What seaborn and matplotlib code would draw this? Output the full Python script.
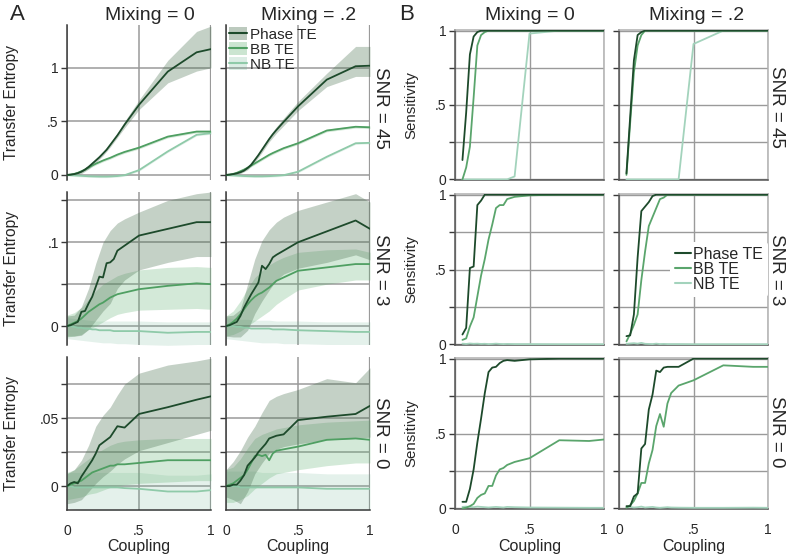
import numpy as np
import pandas as pd
import matplotlib
matplotlib.use("Agg")
import matplotlib.pyplot as plt
import seaborn as sns
from matplotlib.patches import Patch
from matplotlib.lines import Line2D
from matplotlib.ticker import FixedLocator, FixedFormatter

# ---------------- data ----------------
coupling = [0, .025, .05, .075, .1, .125, .15, .175, .2, .225, .25, .275, .3, .325, .35, .4, .5, .7, .9, 1.0]
band_coupling = [0, .05, .1, .15, .2, .25, .3, .35, .4, .5, .7, .9, 1.0]
sens_coupling = [.05, .075, .1, .125, .15, .175, .2, .225, .25, .275, .3, .325, .35, .4, .5, .7, .9, 1.0]

series_names = ["Phase TE", "BB TE", "NB TE"]
mixing_titles = ["Mixing = 0", "Mixing = .2"]
snr_labels = ["SNR = 45", "SNR = 3", "SNR = 0"]

# Transfer entropy, SNR = 45
te_phase_s45_m0 = [0, .003, .008, .017, .03, .05, .075, .105, .135, .165, .20, .235, .28, .325, .37, .47, .655, .965, 1.145, 1.175]
te_phase_s45_m0_lo = [-.005, .0, .012, .055, .115, .18, .26, .35, .44, .61, .86, .97, 1.0]
te_phase_s45_m0_hi = [.005, .016, .045, .095, .155, .22, .30, .39, .50, .70, 1.07, 1.34, 1.39]
te_bb_s45_m0 = [0, .004, .01, .02, .035, .05, .07, .088, .105, .12, .135, .148, .16, .175, .19, .215, .255, .358, .405, .405]
te_bb_s45_m0_lo = [-.006, .0, .024, .058, .093, .123, .148, .178, .203, .243, .346, .393, .393]
te_bb_s45_m0_hi = [.006, .02, .046, .082, .117, .147, .172, .202, .227, .267, .37, .417, .417]
te_nb_s45_m0 = [0, -.002, -.004, -.006, -.008, -.01, -.012, -.013, -.014, -.015, -.015, -.015, -.014, -.012, -.01, -.002, .045, .22, .375, .39]
te_nb_s45_m0_lo = [-.01, -.014, -.018, -.022, -.024, -.025, -.024, -.02, -.012, .035, .21, .365, .38]
te_nb_s45_m0_hi = [.01, .006, .002, -.002, -.004, -.005, -.004, .0, .008, .055, .23, .385, .40]

te_phase_s45_m2 = [0, .003, .008, .015, .025, .04, .065, .095, .14, .185, .235, .285, .335, .38, .42, .495, .64, .89, 1.015, 1.02]
te_phase_s45_m2_lo = [-.005, .0, .012, .048, .12, .21, .31, .39, .46, .60, .825, .92, .92]
te_phase_s45_m2_hi = [.005, .016, .038, .082, .16, .26, .36, .45, .53, .685, .95, 1.2, 1.2]
te_bb_s45_m2 = [0, .004, .01, .02, .035, .05, .068, .088, .108, .128, .148, .168, .188, .205, .22, .25, .296, .415, .45, .445]
te_bb_s45_m2_lo = [-.006, .0, .024, .056, .096, .136, .176, .208, .238, .284, .403, .438, .433]
te_bb_s45_m2_hi = [.006, .02, .046, .08, .12, .16, .2, .232, .262, .308, .427, .462, .457]
te_nb_s45_m2 = [0, -.002, -.004, -.006, -.008, -.01, -.011, -.012, -.013, -.013, -.013, -.012, -.011, -.009, -.007, -.002, .03, .17, .296, .30]
te_nb_s45_m2_lo = [-.01, -.014, -.018, -.021, -.023, -.023, -.021, -.017, -.012, .02, .16, .286, .29]
te_nb_s45_m2_hi = [.01, .006, .002, -.001, -.003, -.003, -.001, .003, .008, .04, .18, .306, .31]

# Transfer entropy, SNR = 3
te_phase_s3_m0 = [0, .001, .003, .005, .017, .018, .027, .035, .047, .059, .058, .075, .076, .08, .09, .096, .108, .116, .124, .124]
te_phase_s3_m0_lo = [-.012, -.012, -.011, -.004, .007, .018, .027, .045, .055, .067, .076, .083, .083]
te_phase_s3_m0_hi = [.012, .013, .023, .045, .075, .10, .114, .123, .128, .136, .15, .158, .16]
te_bb_s3_m0 = [0, .002, .004, .006, .009, .013, .017, .02, .023, .026, .028, .031, .034, .036, .038, .04, .044, .048, .051, .05]
te_bb_s3_m0_lo = [-.013, -.012, -.01, -.004, .0, .005, .01, .014, .016, .019, .02, .021, .02]
te_bb_s3_m0_hi = [.013, .016, .022, .032, .042, .05, .055, .06, .063, .067, .07, .071, .07]
te_nb_s3_m0 = [0, .0, -.001, -.002, -.002, -.003, -.003, -.004, -.004, -.005, -.005, -.005, -.005, -.006, -.006, -.006, -.006, -.008, -.007, -.007]
te_nb_s3_m0_lo = [-.015, -.016, -.017, -.018, -.019, -.02, -.02, -.021, -.021, -.022, -.023, -.022, -.022]
te_nb_s3_m0_hi = [.01, .009, .008, .007, .006, .006, .006, .006, .006, .006, .005, .005, .005]

te_phase_s3_m2 = [0, .001, .003, .005, .012, .022, .03, .038, .045, .052, .072, .068, .074, .082, .085, .09, .10, .113, .126, .116]
te_phase_s3_m2_lo = [-.012, -.013, -.013, -.005, .015, .03, .043, .055, .062, .069, .076, .085, .079]
te_phase_s3_m2_hi = [.012, .013, .02, .05, .08, .102, .115, .124, .13, .138, .148, .158, .148]
te_bb_s3_m2 = [0, .002, .005, .009, .014, .02, .026, .031, .035, .038, .04, .043, .046, .05, .054, .058, .066, .07, .074, .074]
te_bb_s3_m2_lo = [-.012, -.01, -.006, .0, .006, .012, .018, .026, .032, .043, .05, .055, .055]
te_bb_s3_m2_hi = [.012, .018, .03, .045, .058, .066, .073, .078, .082, .088, .091, .092, .088]
te_nb_s3_m2 = [0, 0, 0, -.001, -.001, -.002, -.002, -.003, -.003, -.003, -.003, -.003, -.003, -.004, -.004, -.004, -.005, -.006, -.007, -.007]
te_nb_s3_m2_lo = [-.015, -.016, -.017, -.018, -.019, -.02, -.02, -.02, -.021, -.021, -.022, -.022, -.022]
te_nb_s3_m2_hi = [.01, .009, .008, .008, .007, .007, .007, .006, .006, .006, .005, .005, .005]

# Transfer entropy, SNR = 0
te_phase_s0_m0 = [0, .002, .003, .002, .007, .011, .015, .019, .024, .03, .032, .034, .036, .04, .044, .043, .053, .058, .0635, .066]
te_phase_s0_m0_lo = [-.013, -.012, -.01, -.004, .002, .007, .011, .016, .02, .026, .032, .038, .041]
te_phase_s0_m0_hi = [.009, .012, .019, .03, .044, .052, .058, .067, .075, .083, .089, .092, .094]
te_bb_s0_m0 = [0, .001, .002, .003, .004, .006, .008, .01, .011, .012, .013, .014, .015, .015, .016, .016, .017, .019, .019, .019]
te_bb_s0_m0_lo = [-.01, -.009, -.008, -.006, -.005, -.003, -.001, .0, .001, .002, .003, .004, .004]
te_bb_s0_m0_hi = [.01, .012, .016, .02, .024, .027, .03, .032, .033, .034, .035, .035, .035]
te_nb_s0_m0 = [0, 0, -.001, -.001, -.001, -.001, -.001, -.001, -.001, -.001, -.001, -.001, -.001, -.001, -.001, -.0015, -.002, -.004, -.004, -.003]
te_nb_s0_m0_lo = [-.016, -.017, -.018, -.019, -.019, -.02, -.02, -.02, -.02, -.02, -.021, -.021, -.021]
te_nb_s0_m0_hi = [.01, .01, .01, .01, .01, .01, .01, .01, .01, .01, .008, .008, .009]

te_phase_s0_m2 = [0, 0, .001, .001, .004, .008, .015, .018, .021, .025, .028, .031, .035, .036, .037, .038, .0485, .051, .053, .059]
te_phase_s0_m2_lo = [-.008, -.01, -.013, -.004, .009, .017, .024, .027, .029, .031, .034, .035, .036]
te_phase_s0_m2_hi = [.012, .018, .026, .036, .044, .054, .063, .066, .068, .071, .079, .076, .087]
te_bb_s0_m2 = [0, .001, .002, .004, .006, .008, .012, .017, .022, .023, .022, .023, .019, .024, .026, .027, .029, .034, .035, .034]
te_bb_s0_m2_lo = [-.012, -.012, -.01, -.007, -.002, .002, .006, .009, .01, .012, .015, .017, .017]
te_bb_s0_m2_hi = [.012, .014, .02, .028, .035, .038, .04, .042, .043, .045, .047, .048, .0485]
te_nb_s0_m2 = [0, 0, 0, 0, -.001, -.001, -.001, -.001, -.001, -.001, -.001, -.001, -.001, -.001, -.001, -.001, -.001, -.002, -.002, -.002]
te_nb_s0_m2_lo = [-.016, -.017, -.018, -.019, -.019, -.02, -.02, -.02, -.02, -.02, -.021, -.021, -.021]
te_nb_s0_m2_hi = [.011, .011, .011, .011, .011, .01, .01, .01, .01, .01, .009, .009, .009]

# Sensitivity
sens_phase_s45_m0 = [.13, .45, .84, .96, .99, 1, 1, 1, 1, 1, 1, 1, 1, 1, 1, 1, 1, 1]
sens_bb_s45_m0 = [0, .08, .22, .55, .90, .97, .99, 1, 1, 1, 1, 1, 1, 1, 1, 1, 1, 1]
sens_nb_s45_m0 = [0, 0, 0, 0, 0, 0, 0, 0, 0, 0, 0, 0, 0, .02, .98, 1, 1, 1]
sens_phase_s45_m2 = [.04, .42, .80, .97, .99, 1, 1, 1, 1, 1, 1, 1, 1, 1, 1, 1, 1, 1]
sens_bb_s45_m2 = [.03, .38, .72, .90, .97, 1, 1, 1, 1, 1, 1, 1, 1, 1, 1, 1, 1, 1]
sens_nb_s45_m2 = [0, 0, 0, 0, 0, 0, 0, 0, 0, 0, 0, 0, 0, 0, .91, 1, 1, 1]

sens_phase_s3_m0 = [.066, .11, .51, .52, .93, .96, 1, 1, 1, 1, 1, 1, 1, 1, 1, 1, 1, 1]
sens_bb_s3_m0 = [.03, .04, .12, .18, .32, .46, .57, .70, .80, .91, .93, .93, .97, .985, .995, 1, 1, 1]
sens_nb_s3_m0 = [.005, .003, .006, .004, .005, .003, .004, .002, .003, .005, .003, .002, .003, .002, .002, .001, .001, .001]
sens_phase_s3_m2 = [.055, .06, .20, .58, .89, .92, .95, .99, 1, 1, 1, 1, 1, 1, 1, 1, 1, 1]
sens_bb_s3_m2 = [.02, .07, .13, .20, .43, .62, .79, .85, .91, .97, .98, 1, 1, 1, 1, 1, 1, 1]
sens_nb_s3_m2 = [.004, .006, .008, .005, .01, .004, .003, .002, .005, .002, .003, .002, .002, .002, .001, .001, .001, .001]

sens_phase_s0_m0 = [.044, .044, .13, .26, .44, .60, .77, .91, .94, .945, .97, .985, .99, .985, .995, 1, 1, 1]
sens_bb_s0_m0 = [0, .005, .015, .03, .07, .09, .10, .15, .15, .22, .26, .27, .29, .31, .335, .455, .45, .46]
sens_nb_s0_m0 = [.01, .012, .01, .008, .012, .01, .008, .006, .008, .01, .008, .006, .01, .008, .006, .005, .004, .004]
sens_phase_s0_m2 = [.015, .015, .08, .10, .40, .43, .66, .76, .92, .91, .94, .945, .945, .945, 1, 1, 1, 1]
sens_bb_s0_m2 = [.005, .02, .05, .10, .17, .17, .30, .39, .55, .63, .545, .70, .77, .82, .855, .955, .945, .945]
sens_nb_s0_m2 = [.008, .01, .006, .008, .012, .006, .008, .01, .006, .004, .006, .008, .006, .005, .004, .004, .005, .004]

# ---------------- tables built from the arrays ----------------
te_panels = [
    [[(te_phase_s45_m0, te_phase_s45_m0_lo, te_phase_s45_m0_hi), (te_bb_s45_m0, te_bb_s45_m0_lo, te_bb_s45_m0_hi), (te_nb_s45_m0, te_nb_s45_m0_lo, te_nb_s45_m0_hi)],
     [(te_phase_s45_m2, te_phase_s45_m2_lo, te_phase_s45_m2_hi), (te_bb_s45_m2, te_bb_s45_m2_lo, te_bb_s45_m2_hi), (te_nb_s45_m2, te_nb_s45_m2_lo, te_nb_s45_m2_hi)]],
    [[(te_phase_s3_m0, te_phase_s3_m0_lo, te_phase_s3_m0_hi), (te_bb_s3_m0, te_bb_s3_m0_lo, te_bb_s3_m0_hi), (te_nb_s3_m0, te_nb_s3_m0_lo, te_nb_s3_m0_hi)],
     [(te_phase_s3_m2, te_phase_s3_m2_lo, te_phase_s3_m2_hi), (te_bb_s3_m2, te_bb_s3_m2_lo, te_bb_s3_m2_hi), (te_nb_s3_m2, te_nb_s3_m2_lo, te_nb_s3_m2_hi)]],
    [[(te_phase_s0_m0, te_phase_s0_m0_lo, te_phase_s0_m0_hi), (te_bb_s0_m0, te_bb_s0_m0_lo, te_bb_s0_m0_hi), (te_nb_s0_m0, te_nb_s0_m0_lo, te_nb_s0_m0_hi)],
     [(te_phase_s0_m2, te_phase_s0_m2_lo, te_phase_s0_m2_hi), (te_bb_s0_m2, te_bb_s0_m2_lo, te_bb_s0_m2_hi), (te_nb_s0_m2, te_nb_s0_m2_lo, te_nb_s0_m2_hi)]],
]
sens_panels = [
    [[sens_phase_s45_m0, sens_bb_s45_m0, sens_nb_s45_m0], [sens_phase_s45_m2, sens_bb_s45_m2, sens_nb_s45_m2]],
    [[sens_phase_s3_m0, sens_bb_s3_m0, sens_nb_s3_m0], [sens_phase_s3_m2, sens_bb_s3_m2, sens_nb_s3_m2]],
    [[sens_phase_s0_m0, sens_bb_s0_m0, sens_nb_s0_m0], [sens_phase_s0_m2, sens_bb_s0_m2, sens_nb_s0_m2]],
]

# ---------------- style ----------------
sns.set_style("white")
plt.rcParams['font.family'] = ['Liberation Sans', 'DejaVu Sans']

line_colors = ["#1d4a2b", "#4f9f62", "#8fcaa9"]
sens_colors = ["#1d4a2b", "#5aa56c", "#a3d3bc"]
band_colors = ["#4a7050", "#5fb070", "#62b08a"]
band_alphas = [0.32, 0.27, 0.17]
grid_c = "#9a9a9a"
spine_dark = "#3a3a3a"

W, H = 787, 558
fig = plt.figure(figsize=(W / 100, H / 100), dpi=100)


def rect(x0, x1, top, bottom):
    return [x0 / W, 1 - bottom / H, (x1 - x0) / W, (bottom - top) / H]


A_cols = [(67, 211), (226, 370)]
A_rows = [(25, 180), (192, 345), (357, 510)]
B_cols = [(455, 604), (619, 768)]
B_rows = [(30, 180), (194, 345), (358, 509)]

A_ylims = [(-0.047, 1.40), (-0.0226, 0.16), (-0.0176, 0.0949)]
A_grid = [[0, .5, 1.0], [0, .05, .1, .15], [0, .025, .05, .075]]
A_labels = [["0", ".5", "1"], ["0", "", ".1", ""], ["0", "", ".05", ""]]

tick_fs = 10
xlabel_fs = 11.5


def style_xaxis(ax, bottom_row, n_rows_px):
    if bottom_row:
        ax.xaxis.set_major_formatter(FixedFormatter(["0", ".5", "1"]))
        ax.tick_params(axis="x", length=0, labelsize=tick_fs, pad=10)
        ax.set_xlabel("Coupling", fontsize=xlabel_fs, va="center")
        ax.xaxis.set_label_coords(0.5, -37.0 / n_rows_px)
    else:
        ax.tick_params(axis="x", length=0, labelbottom=False)
        ax.set_xlabel("")


for r in range(3):
    for c in range(2):
        ax = fig.add_axes(rect(A_cols[c][0], A_cols[c][1], A_rows[r][0], A_rows[r][1]))
        for s in (2, 1, 0):
            mean, lo, hi = te_panels[r][c][s]
            ax.fill_between(band_coupling, lo, hi, color=band_colors[s], alpha=band_alphas[s], lw=0, zorder=1)
        for s in (2, 1, 0):
            mean = te_panels[r][c][s][0]
            sns.lineplot(x=coupling, y=mean, ax=ax, color=line_colors[s], lw=1.3, errorbar=None, zorder=3)
        ax.set_xlim(0, 1)
        ax.set_ylim(*A_ylims[r])
        ax.yaxis.set_major_locator(FixedLocator(A_grid[r]))
        ax.yaxis.set_major_formatter(FixedFormatter(A_labels[r] if c == 0 else [""] * len(A_grid[r])))
        ax.xaxis.set_major_locator(FixedLocator([0, .5, 1]))
        ax.grid(True, color=grid_c, lw=1.1)
        ax.set_axisbelow(True)
        for side in ("top", "bottom", "right"):
            ax.spines[side].set_visible(False)
        ax.spines["left"].set_color(spine_dark)
        ax.spines["left"].set_linewidth(1.1)
        ax.axvline(1.0, color=grid_c, lw=1.6, zorder=0.6)
        ax.tick_params(axis="y", direction="out", length=4, width=1, color=spine_dark,
                       labelsize=tick_fs, pad=2, left=True)
        if r == 2:
            ax.spines["bottom"].set_visible(True)
            ax.spines["bottom"].set_color(spine_dark)
            ax.spines["bottom"].set_linewidth(1.1)
        style_xaxis(ax, r == 2, A_rows[r][1] - A_rows[r][0])
        if c == 0:
            ax.set_ylabel("Transfer Entropy", fontsize=11.2)
            ax.yaxis.set_label_coords(-0.335, 0.5)
        else:
            ax.set_ylabel("")
        if r == 0 and c == 1:
            handles = [(Patch(facecolor=band_colors[s], alpha=band_alphas[s] + 0.05, lw=0),
                        Line2D([], [], color=line_colors[s], lw=1.5)) for s in range(3)]
            ax.legend(handles, series_names, loc="upper left", bbox_to_anchor=(0.0, 1.01),
                      frameon=False, fontsize=11, handlelength=1.15, handleheight=1.0,
                      handletextpad=0.2, labelspacing=0.0, borderpad=0.2, borderaxespad=0)

for r in range(3):
    for c in range(2):
        ax = fig.add_axes(rect(B_cols[c][0], B_cols[c][1], B_rows[r][0], B_rows[r][1]))
        for s in (2, 1, 0):
            sns.lineplot(x=sens_coupling, y=sens_panels[r][c][s], ax=ax, color=sens_colors[s],
                         lw=1.3, errorbar=None, zorder=3)
        ax.set_xlim(0, 1)
        ax.set_ylim(-0.004, 1.004)
        ax.yaxis.set_major_locator(FixedLocator([0, .25, .5, .75, 1]))
        ax.yaxis.set_major_formatter(FixedFormatter(["0", "", ".5", "", "1"] if c == 0 else [""] * 5))
        ax.xaxis.set_major_locator(FixedLocator([0, .5, 1]))
        ax.grid(True, color=grid_c, lw=1.0)
        ax.set_axisbelow(True)
        for side in ("top", "right"):
            ax.spines[side].set_color("#b0b0b0")
            ax.spines[side].set_linewidth(1.1)
        for side in ("left", "bottom"):
            ax.spines[side].set_color("#555555")
            ax.spines[side].set_linewidth(1.1)
        ax.tick_params(axis="y", direction="out", length=4, width=1, color=spine_dark,
                       labelsize=tick_fs, pad=2, left=True)
        style_xaxis(ax, r == 2, B_rows[r][1] - B_rows[r][0])
        if c == 0:
            ax.set_ylabel("Sensitivity", fontsize=10.8)
            ax.yaxis.set_label_coords(-0.245, 0.5)
        else:
            ax.set_ylabel("")
        if r == 1 and c == 1:
            handles = [Line2D([], [], color=sens_colors[s], lw=1.5) for s in range(3)]
            leg = ax.legend(handles, series_names, loc="center right", bbox_to_anchor=(1.0, 0.5),
                            frameon=True, fontsize=11.5, handlelength=1.0, handletextpad=0.15,
                            labelspacing=0.0, borderpad=0.3, borderaxespad=0, framealpha=1)
            leg.get_frame().set_edgecolor("none")
            leg.get_frame().set_facecolor("white")

# ---------------- annotations ----------------
fig.text(17 / W, 1 - 15 / H, "A", fontsize=16, ha="center", va="center")
fig.text(407 / W, 1 - 15 / H, "B", fontsize=16, ha="center", va="center")
for xc, t in zip([150, 309, 530, 697], mixing_titles * 2):
    fig.text(xc / W, 1 - 15 / H, t, fontsize=14, ha="center", va="center")
for yc, t in zip([108, 270, 433], snr_labels):
    fig.text(381 / W, 1 - yc / H, t, fontsize=13.5, ha="center", va="center", rotation=270)
for yc, t in zip([107, 270, 432], snr_labels):
    fig.text(777 / W, 1 - yc / H, t, fontsize=13.5, ha="center", va="center", rotation=270)

fig.savefig("out.png", dpi=100)
